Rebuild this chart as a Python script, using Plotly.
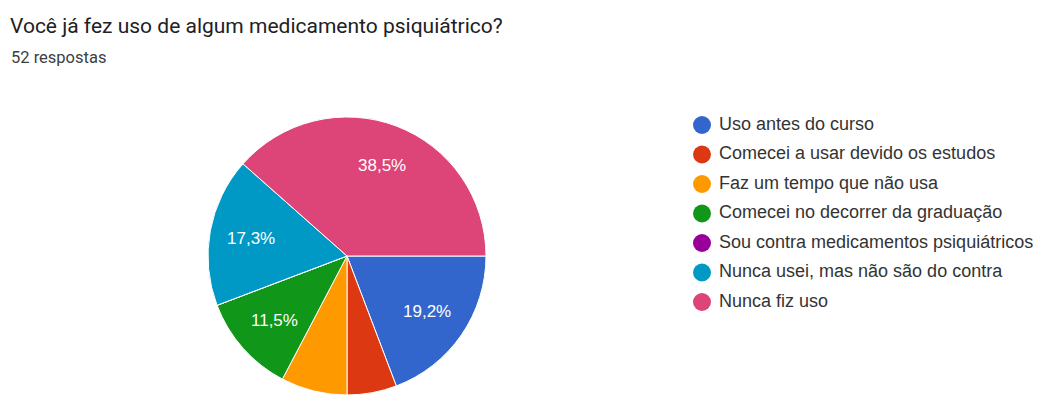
import math
import plotly.graph_objects as go

# Survey answers (52 respostas)
categorias = [
    "Uso antes do curso",
    "Comecei a usar devido os estudos",
    "Faz um tempo que não usa",
    "Comecei no decorrer da graduação",
    "Sou contra medicamentos psiquiátricos",
    "Nunca usei, mas não são do contra",
    "Nunca fiz uso",
]
respostas = [10, 3, 4, 6, 0, 9, 20]
cores = ["#3366cc", "#dc3912", "#ff9900", "#109618", "#990099", "#0099c6", "#dd4477"]

W, H = 1044, 405
cx, cy, r = 347, 256, 139          # pie centre and radius, px
label_r = 0.70                     # label distance as a fraction of the radius
min_label_share = 0.08             # smaller slices get no label

total = sum(respostas)

fig = go.Figure()

fig.add_trace(go.Pie(
    labels=categorias,
    values=respostas,
    sort=False,
    direction="clockwise",
    rotation=90,
    marker=dict(colors=cores, line=dict(color="white", width=1)),
    textinfo="none",
    domain=dict(x=[(cx - r) / W, (cx + r) / W], y=[(H - cy - r) / H, (H - cy + r) / H]),
    showlegend=False,
    hoverinfo="label+percent",
))

# Percentage labels placed at the middle angle of each slice
acum = 0
for v in respostas:
    share = v / total
    mid = (acum + share / 2) * 2 * math.pi + math.pi / 2   # clockwise from 12 o'clock
    acum += share
    if share < min_label_share:
        continue
    px = cx + label_r * r * math.sin(mid)
    py = cy - label_r * r * math.cos(mid)
    fig.add_annotation(
        text=f"{share * 100:.1f}%".replace(".", ","),
        xref="paper", yref="paper", x=px / W, y=(H - py) / H,
        xanchor="center", yanchor="middle", showarrow=False,
        font=dict(family="Arial, Liberation Sans, sans-serif", size=17, color="white"),
    )

# Legend drawn as a column of markers with labels
row0, gap = 125, 29.5
leg_x0 = 702
text_dx = 17 / (W - leg_x0)
ys = list(range(len(categorias)))

fig.add_trace(go.Scatter(
    x=[0] * len(categorias), y=ys,
    mode="markers",
    marker=dict(color=cores, size=18),
    cliponaxis=False, showlegend=False, hoverinfo="skip",
))
fig.add_trace(go.Scatter(
    x=[text_dx] * len(categorias), y=ys,
    mode="text",
    text=categorias,
    textposition="middle right",
    textfont=dict(family="Arial, Liberation Sans, sans-serif", size=18, color="#333333"),
    cliponaxis=False, showlegend=False, hoverinfo="skip",
))

fig.update_xaxes(domain=[leg_x0 / W, 1], range=[0, 1], visible=False, fixedrange=True)
fig.update_yaxes(domain=[0, 1], range=[(H - row0) / gap, -row0 / gap], visible=False, fixedrange=True)

fig.add_annotation(
    text="Você já fez uso de algum medicamento psiquiátrico?",
    xref="paper", yref="paper", x=8 / W, y=(H - 26) / H,
    xanchor="left", yanchor="middle", showarrow=False,
    font=dict(family="Roboto, Arial, sans-serif", size=21, color="#202124"),
)
fig.add_annotation(
    text="52 respostas",
    xref="paper", yref="paper", x=9 / W, y=(H - 58) / H,
    xanchor="left", yanchor="middle", showarrow=False,
    font=dict(family="Roboto, Arial, sans-serif", size=16.5, color="#3c4043"),
)

fig.update_layout(
    width=W, height=H,
    margin=dict(l=0, r=0, t=0, b=0),
    paper_bgcolor="white", plot_bgcolor="white",
    separators=",.",
)

fig.write_html("out.html")
